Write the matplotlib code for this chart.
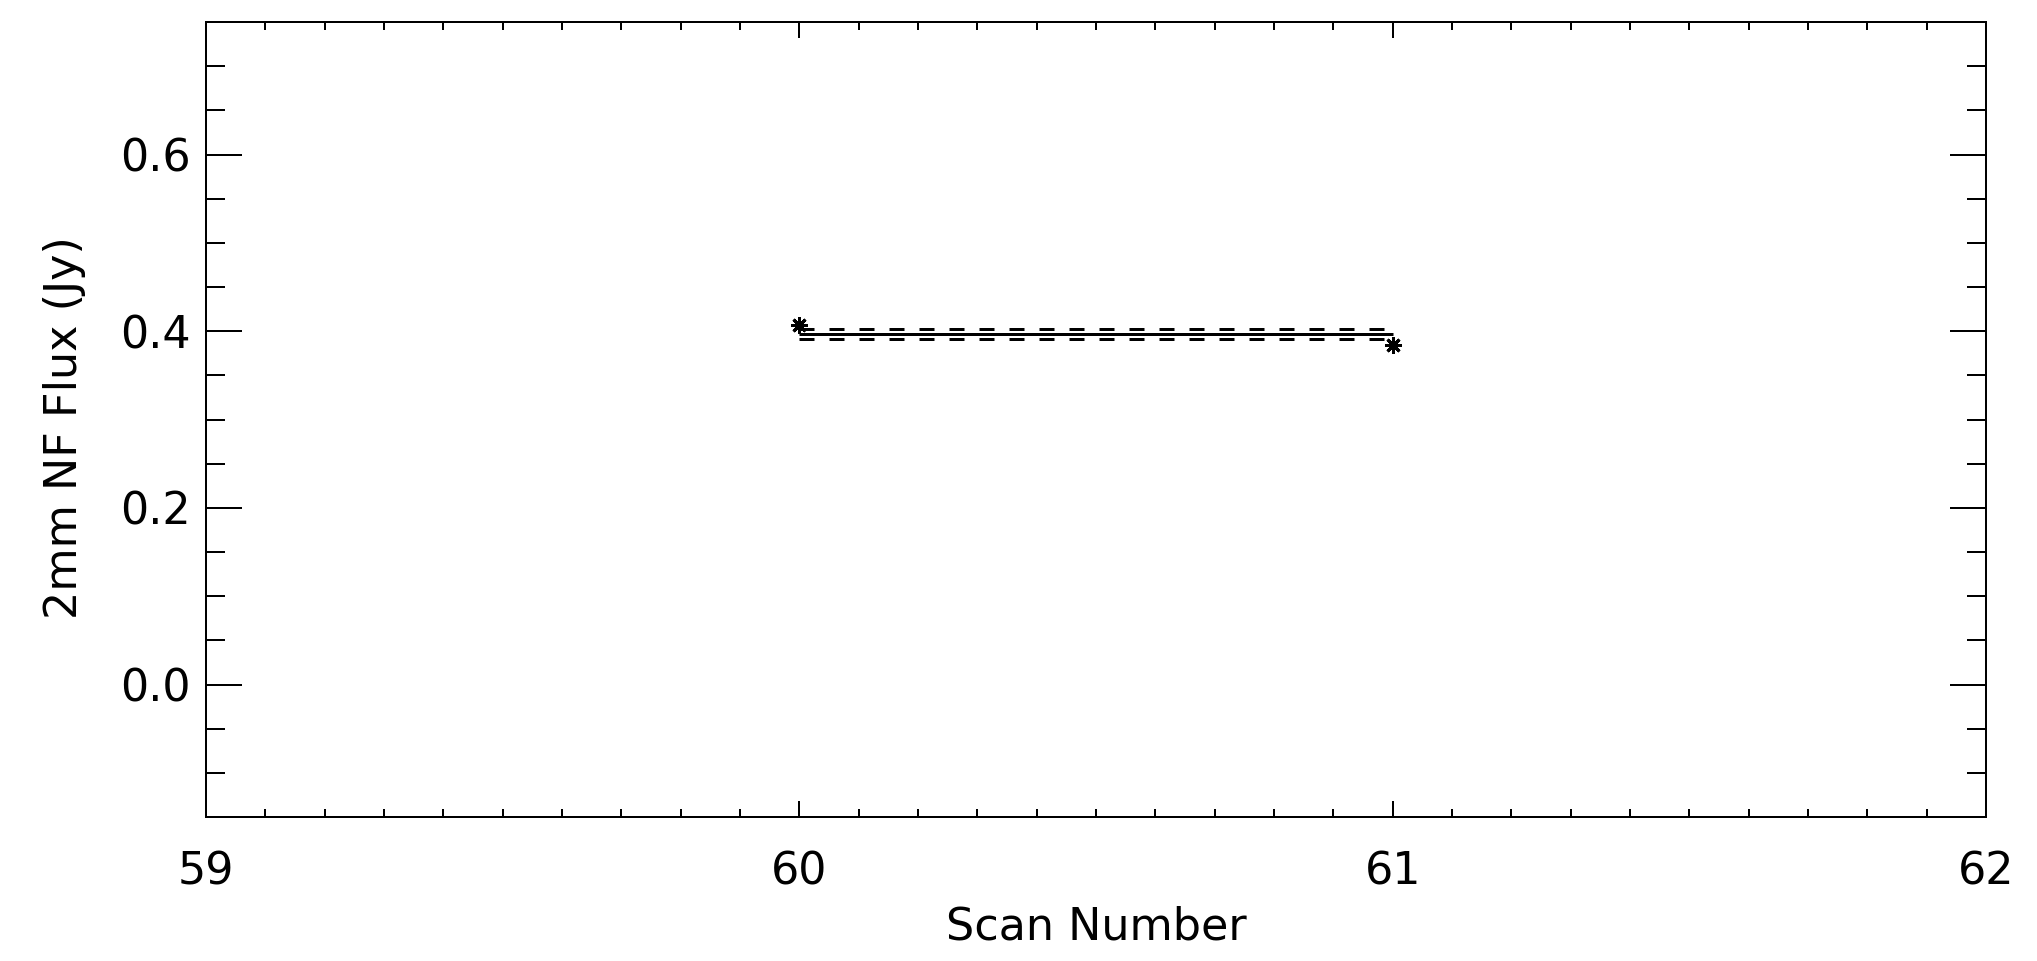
import matplotlib
matplotlib.use("Agg")
import matplotlib.pyplot as plt
from matplotlib.ticker import MultipleLocator, FixedLocator

# ---- data ----
scan_number = [60, 61]
flux_jy = [0.407, 0.384]
mean_flux = 0.397
mean_err = 0.006
mean_span = [60, 61]

x_limits = (59, 62)
y_limits = (-0.15, 0.75)
x_major = [59, 60, 61, 62]
y_major = [0.0, 0.2, 0.4, 0.6]
x_label = "Scan Number"
y_label = "2mm NF Flux (Jy)"

W, H = 2037, 961
DPI = 100
fig = plt.figure(figsize=(W / DPI, H / DPI), dpi=DPI)
plt.rcParams['font.family'] = ['DejaVu Sans']

left, right, top, bottom = 206, 1986, 22, 817
ax = fig.add_axes([left / W, 1 - bottom / H, (right - left) / W, (bottom - top) / H])

px = 72 / DPI
lw = 2 * px
dlw = 3 * px
# mean line and +-error dashed lines
ax.plot(mean_span, [mean_flux, mean_flux], color='black', lw=dlw, solid_capstyle='butt')
for s in (+1, -1):
    ln, = ax.plot(mean_span, [mean_flux + s * mean_err] * 2, color='black', lw=dlw,
                  dash_capstyle='butt')
    ln.set_dashes([5, 5])
# data points as asterisks
ax.plot(scan_number, flux_jy, linestyle='none', marker=(8, 2, 0), markersize=12,
        markeredgewidth=dlw, color='black')

ax.set_xlim(*x_limits)
ax.set_ylim(*y_limits)
ax.xaxis.set_major_locator(FixedLocator(x_major))
ax.xaxis.set_minor_locator(MultipleLocator(0.1))
ax.yaxis.set_major_locator(FixedLocator(y_major))
ax.yaxis.set_minor_locator(MultipleLocator(0.05))
ax.set_xticklabels([str(v) for v in x_major])
ax.set_yticklabels([f"{v:.1f}" for v in y_major])

ax.tick_params(axis='both', which='both', direction='in', top=True, right=True,
               width=lw, color='black', labelsize=32)
ax.tick_params(axis='x', which='major', length=16 * px, pad=24)
ax.tick_params(axis='x', which='minor', length=8 * px)
ax.tick_params(axis='y', which='major', length=36 * px, pad=11)
ax.tick_params(axis='y', which='minor', length=19 * px)
for sp in ax.spines.values():
    sp.set_linewidth(lw)
    sp.set_color('black')

fig.text(1096 / W, 1 - 927 / H, x_label, ha='center', va='center', fontsize=32)
fig.text(65 / W, 1 - 428 / H, y_label, ha='center', va='center', rotation=90, fontsize=32)

fig.savefig("out.png", dpi=DPI, facecolor='white')
